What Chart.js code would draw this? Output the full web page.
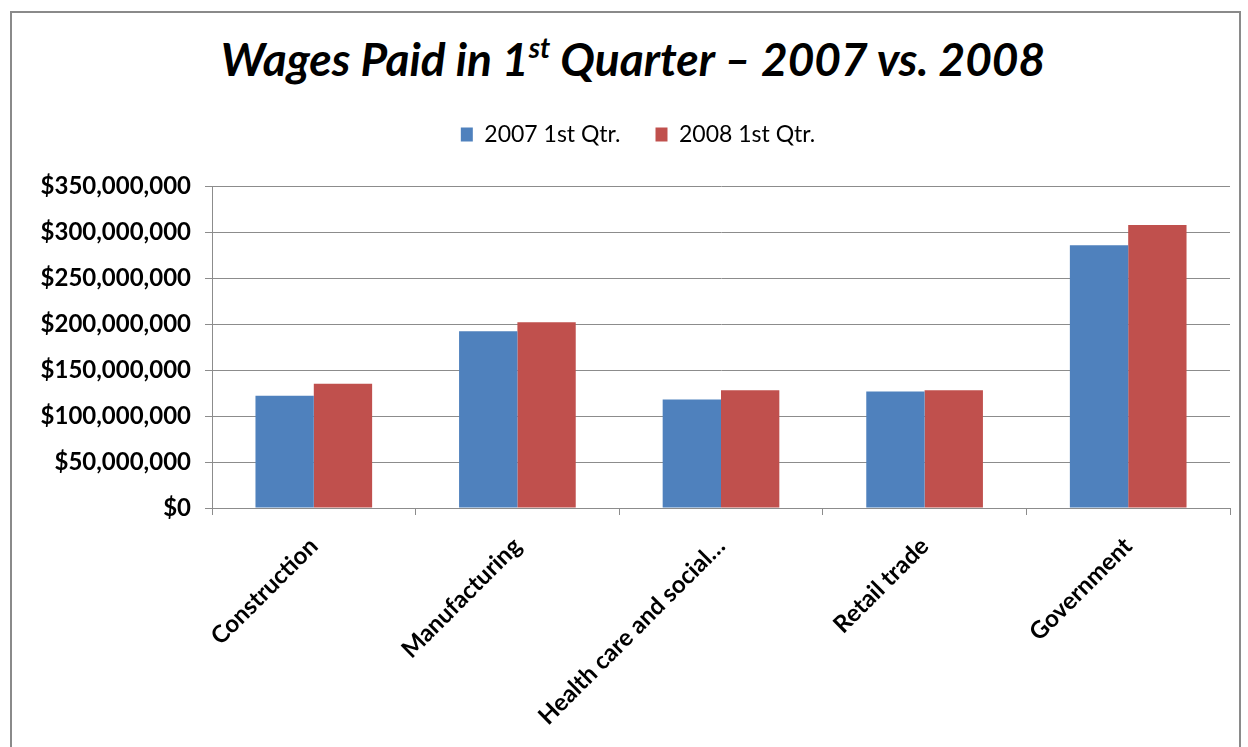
<!DOCTYPE html>
<html>
<head>
<meta charset="utf-8">
<script src="https://cdn.jsdelivr.net/npm/chart.js@4.4.1/dist/chart.umd.min.js"></script>
<style>
  html, body { margin: 0; padding: 0; background: #fff; overflow: hidden; }
  #frame {
    position: absolute; left: 10px; top: 11px; width: 1231px; height: 760px;
    border: 2px solid #8a8a8a; box-sizing: border-box;
  }
  #titulo {
    position: absolute; left: 0; top: 31px; width: 1266px; text-align: center;
    font-family: Lato, sans-serif; font-weight: bold; font-style: italic;
    font-size: 46px; color: #000; white-space: nowrap;
  }
  #titulo sup { font-size: 28px; vertical-align: 18px; line-height: 0; }
  #wrap { position: absolute; left: 0; top: 0; width: 1248px; height: 747px; }
</style>
</head>
<body>
<div id="frame"></div>
<div id="titulo">Wages Paid in 1<sup>st</sup> Quarter – 2007 vs. 2008</div>
<div id="wrap"><canvas id="wagesChart"></canvas></div>
<script>
// Datos del gráfico
const categorias = ['Construction', 'Manufacturing', 'Health care and social…', 'Retail trade', 'Government'];
const series = ['2007 1st Qtr.', '2008 1st Qtr.'];
const salarios2007 = [122000000, 192000000, 118000000, 126500000, 285500000];
const salarios2008 = [135000000, 202000000, 128000000, 128000000, 307500000];
const ticksY = [0, 50000000, 100000000, 150000000, 200000000, 250000000, 300000000, 350000000];

const gris = '#8c8c8c';

function formatoDolar(v) {
    return '$' + Number(v).toLocaleString('en-US');
}

// Plugin para dejar espacio extra debajo de la leyenda y centrarla como en el original
const ajusteLeyenda = {
    id: 'ajusteLeyenda',
    beforeInit(chart) {
        const legend = chart.legend;
        const fitOriginal = legend.fit;
        legend.fit = function() {
            fitOriginal.bind(legend)();
            this.height += 30;
        };
        const drawOriginal = legend.draw;
        legend.draw = function() {
            const c = chart.ctx;
            c.save();
            c.translate(23, 0);
            drawOriginal.bind(legend)();
            c.restore();
        };
    }
};

const ctx = document.getElementById('wagesChart').getContext('2d');

const wagesChart = new Chart(ctx, {
    type: 'bar',
    data: {
        labels: categorias,
        datasets: [{
            label: series[0],
            data: salarios2007,
            backgroundColor: '#4F81BD',
            borderWidth: 0
        }, {
            label: series[1],
            data: salarios2008,
            backgroundColor: '#C0504D',
            borderWidth: 0
        }]
    },
    plugins: [ajusteLeyenda],
    options: {
        responsive: true,
        maintainAspectRatio: false,
        animation: false,
        categoryPercentage: 0.573,
        barPercentage: 1.0,
        layout: {
            padding: { top: 88, right: 18, left: 0, bottom: 0 }
        },
        plugins: {
            title: { display: false },
            tooltip: { enabled: false },
            legend: {
                display: true,
                position: 'top',
                labels: {
                    font: { family: 'Lato', size: 23 },
                    color: '#000',
                    boxWidth: 12,
                    boxHeight: 14,
                    padding: 35
                }
            }
        },
        scales: {
            x: {
                grid: {
                    offset: true,
                    drawOnChartArea: false,
                    drawTicks: true,
                    tickLength: 7,
                    color: gris
                },
                border: { color: gris },
                ticks: {
                    minRotation: 45,
                    maxRotation: 45,
                    padding: 17,
                    labelOffset: 0,
                    color: '#000',
                    font: { family: 'Lato', size: 24, weight: 'bold' }
                },
                afterFit: function(scale) {
                    scale.height = 239;
                }
            },
            y: {
                min: 0,
                max: 350000000,
                afterBuildTicks: function(scale) {
                    scale.ticks = ticksY.map(v => ({ value: v }));
                },
                grid: {
                    color: gris,
                    tickLength: 7
                },
                border: { color: gris },
                ticks: {
                    padding: 14,
                    color: '#000',
                    font: { family: 'Lato', size: 24, weight: 'bold' },
                    callback: function(value) {
                        return formatoDolar(value);
                    }
                },
                afterFit: function(scale) {
                    scale.width = 212;
                }
            }
        }
    }
});
</script>
</body>
</html>
